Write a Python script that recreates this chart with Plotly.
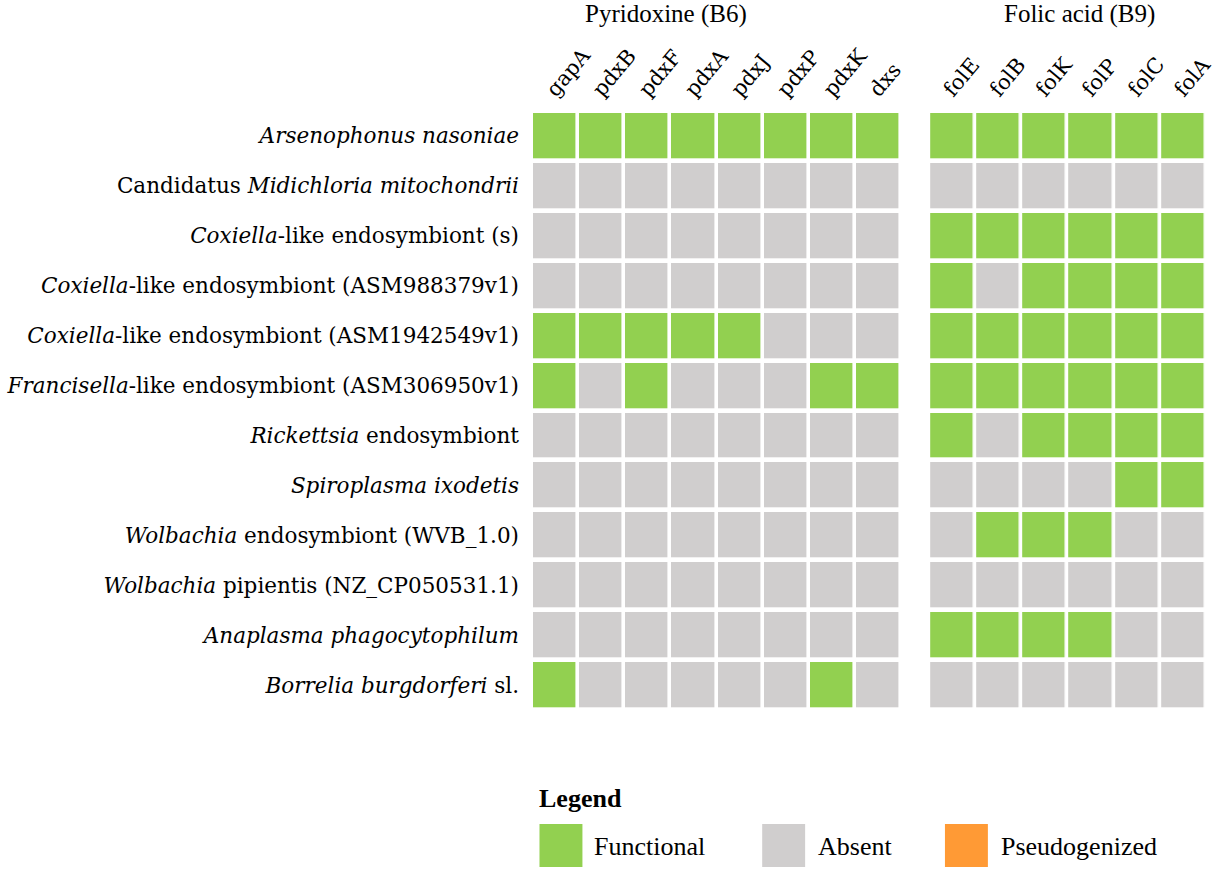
import plotly.graph_objects as go

# data
species = [
    "<i>Arsenophonus nasoniae</i>",
    "Candidatus <i>Midichloria mitochondrii</i>",
    "<i>Coxiella</i>-like endosymbiont (s)",
    "<i>Coxiella</i>-like endosymbiont (ASM988379v1)",
    "<i>Coxiella</i>-like endosymbiont (ASM1942549v1)",
    "<i>Francisella</i>-like endosymbiont (ASM306950v1)",
    "<i>Rickettsia</i> endosymbiont",
    "<i>Spiroplasma ixodetis</i>",
    "<i>Wolbachia</i> endosymbiont (WVB_1.0)",
    "<i>Wolbachia</i> pipientis (NZ_CP050531.1)",
    "<i>Anaplasma phagocytophilum</i>",
    "<i>Borrelia burgdorferi</i> sl.",
]
b6_genes = ["gapA", "pdxB", "pdxF", "pdxA", "pdxJ", "pdxP", "pdxK", "dxs"]
b9_genes = ["folE", "folB", "folK", "folP", "folC", "folA"]

# 0 = absent, 1 = functional, 2 = pseudogenized
b6_status = [
    [1, 1, 1, 1, 1, 1, 1, 1],
    [0, 0, 0, 0, 0, 0, 0, 0],
    [0, 0, 0, 0, 0, 0, 0, 0],
    [0, 0, 0, 0, 0, 0, 0, 0],
    [1, 1, 1, 1, 1, 0, 0, 0],
    [1, 0, 1, 0, 0, 0, 1, 1],
    [0, 0, 0, 0, 0, 0, 0, 0],
    [0, 0, 0, 0, 0, 0, 0, 0],
    [0, 0, 0, 0, 0, 0, 0, 0],
    [0, 0, 0, 0, 0, 0, 0, 0],
    [0, 0, 0, 0, 0, 0, 0, 0],
    [1, 0, 0, 0, 0, 0, 1, 0],
]
b9_status = [
    [1, 1, 1, 1, 1, 1],
    [0, 0, 0, 0, 0, 0],
    [1, 1, 1, 1, 1, 1],
    [1, 0, 1, 1, 1, 1],
    [1, 1, 1, 1, 1, 1],
    [1, 1, 1, 1, 1, 1],
    [1, 0, 1, 1, 1, 1],
    [0, 0, 0, 0, 1, 1],
    [0, 1, 1, 1, 0, 0],
    [0, 0, 0, 0, 0, 0],
    [1, 1, 1, 1, 0, 0],
    [0, 0, 0, 0, 0, 0],
]
groups = ["Pyridoxine (B6)", "Folic acid (B9)"]
status_names = ["Absent", "Functional", "Pseudogenized"]
status_colors = ["#D0CECE", "#92D050", "#FF9A35"]
legend_order = [1, 0, 2]

W, H = 1220, 874
L, R, T, B = 531.5, 13.6, 111, 164
pw, ph = W - L - R, H - T - B


def px(x):
    return (x - L) / pw


def py(y):
    return (H - B - y) / ph


serif = "DejaVu Serif"
times = "Liberation Serif"
cscale = [[0, status_colors[0]], [0.5, status_colors[1]], [1, status_colors[2]]]

fig = go.Figure()
fig.add_trace(go.Heatmap(z=b6_status, x=b6_genes, y=species, xaxis="x", yaxis="y",
                         colorscale=cscale, zmin=0, zmax=2, showscale=False,
                         xgap=3.6, ygap=4.7, hoverinfo="skip"))
fig.add_trace(go.Heatmap(z=b9_status, x=b9_genes, y=species, xaxis="x2", yaxis="y",
                         colorscale=cscale, zmin=0, zmax=2, showscale=False,
                         xgap=3.6, ygap=4.7, hoverinfo="skip"))

xax = dict(side="top", tickangle=-50, ticks="", showgrid=False, zeroline=False,
           showline=False, automargin=False, ticklabelstandoff=4, ticklabelshift=-7,
           tickfont=dict(family=serif, size=21, color="black"), anchor="y")
fig.update_layout(
    width=W, height=H,
    margin=dict(l=L, r=R, t=T, b=B, pad=0, autoexpand=False),
    paper_bgcolor="white", plot_bgcolor="white",
    xaxis=dict(domain=[0, px(901.1)], **xax),
    xaxis2=dict(domain=[px(929.2), 1], **xax),
    yaxis=dict(autorange="reversed", ticks="", showgrid=False, zeroline=False,
               automargin=False, ticklabelstandoff=12,
               tickfont=dict(family=serif, size=21.5, color="black")),
)

# group headers
for name, xc in zip(groups, [666, 1080]):
    fig.add_annotation(text=name, x=px(xc), y=1, xref="paper", yref="paper",
                       yshift=97, showarrow=False, xanchor="center", yanchor="middle",
                       font=dict(family=times, size=25, color="black"))

# legend
fig.add_annotation(text="<b>Legend</b>", x=px(537), y=py(798), xref="paper", yref="paper",
                   showarrow=False, xanchor="left", yanchor="middle",
                   font=dict(family=times, size=26, color="black"))
box_left = [539, 762, 945]
text_left = [592, 816, 999]
for i, k in enumerate(legend_order):
    fig.add_shape(type="rect", xref="paper", yref="paper",
                  x0=px(box_left[i]), x1=px(box_left[i] + 43),
                  y0=py(867), y1=py(824),
                  fillcolor=status_colors[k], line=dict(width=0))
    fig.add_annotation(text=status_names[k], x=px(text_left[i]), y=py(846),
                       xref="paper", yref="paper", showarrow=False,
                       xanchor="left", yanchor="middle",
                       font=dict(family=times, size=26, color="black"))

fig.write_html("out.html", config={"displayModeBar": False},
               post_script="document.body.style.margin='0';")
